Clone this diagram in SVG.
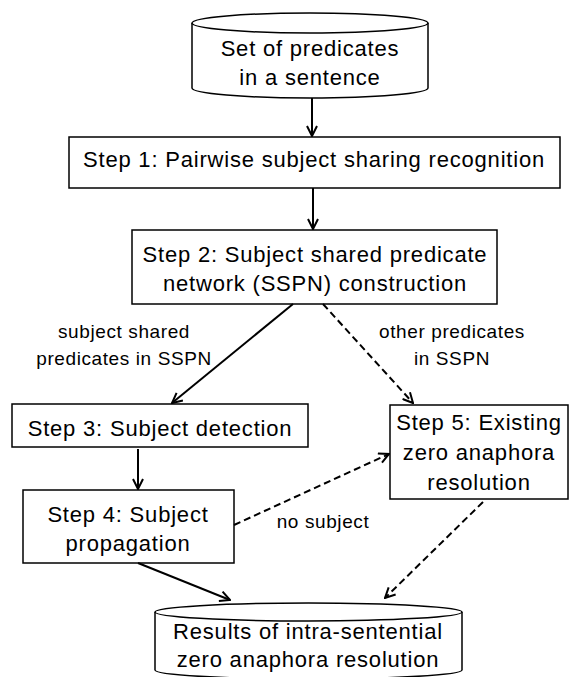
<svg xmlns="http://www.w3.org/2000/svg" width="570" height="677" viewBox="0 0 570 677">
<style>
.box{fill:#fff;stroke:#000;stroke-width:1.5}
.t{font-family:"Liberation Sans",Arial,sans-serif;font-size:22px;letter-spacing:0.8px;text-anchor:middle;fill:#000}
.l{font-family:"Liberation Sans",Arial,sans-serif;font-size:19px;letter-spacing:0.6px;text-anchor:middle;fill:#000}
.c{fill:none;stroke:#000;stroke-width:2}
.d{stroke-dasharray:7 4}
</style>
<defs>
<marker id="ah" viewBox="0 0 12 12" refX="11" refY="6" markerWidth="12" markerHeight="12" markerUnits="userSpaceOnUse" orient="auto">
<path d="M1,1 L11,6 L1,11" fill="none" stroke="#000" stroke-width="2"/>
</marker>
</defs>
<g id="input">
<path class="box" d="M192,23 L192,88 A118,10 0 0 0 428,88 L428,23"/>
<ellipse class="box" cx="310" cy="23" rx="118" ry="10"/>
<text class="t" x="310" y="56">Set of predicates</text>
<text class="t" x="310" y="85">in a sentence</text>
</g>
<g id="step1">
<rect class="box" x="69" y="137" width="491" height="51"/>
<text class="t" x="314" y="167">Step 1: Pairwise subject sharing recognition</text>
</g>
<g id="step2">
<rect class="box" x="132" y="230" width="365" height="74"/>
<text class="t" x="315" y="262">Step 2: Subject shared predicate</text>
<text class="t" x="315" y="291">network (SSPN) construction</text>
</g>
<g id="step3">
<rect class="box" x="12" y="404" width="296" height="43"/>
<text class="t" x="160" y="436">Step 3: Subject detection</text>
</g>
<g id="step4">
<rect class="box" x="23" y="490" width="211" height="73"/>
<text class="t" x="128" y="522">Step 4: Subject</text>
<text class="t" x="128" y="551">propagation</text>
</g>
<g id="step5">
<rect class="box" x="390" y="405" width="178" height="94"/>
<text class="t" x="479" y="430">Step 5: Existing</text>
<text class="t" x="479" y="460">zero anaphora</text>
<text class="t" x="479" y="490">resolution</text>
</g>
<g id="output">
<path class="box" d="M155,612 L155,670 A153.5,9 0 0 0 462,670 L462,612"/>
<ellipse class="box" cx="308.5" cy="612" rx="153.5" ry="9"/>
<text class="t" x="308" y="639">Results of intra-sentential</text>
<text class="t" x="308" y="667">zero anaphora resolution</text>
</g>
<g id="connectors">
<line class="c" x1="312" y1="98" x2="312" y2="136" marker-end="url(#ah)"/>
<line class="c" x1="313" y1="188" x2="313" y2="229" marker-end="url(#ah)"/>
<line class="c" x1="293" y1="304" x2="172" y2="403" marker-end="url(#ah)"/>
<line class="c d" x1="323" y1="304" x2="413" y2="403" marker-end="url(#ah)"/>
<line class="c" x1="138" y1="449" x2="138" y2="489" marker-end="url(#ah)"/>
<line class="c d" x1="234" y1="525" x2="389" y2="454" marker-end="url(#ah)"/>
<line class="c" x1="138" y1="563" x2="230" y2="600" marker-end="url(#ah)"/>
<line class="c d" x1="483" y1="502" x2="385" y2="598" marker-end="url(#ah)"/>
</g>
<g id="labels">
<text class="l" x="124" y="338">subject shared</text>
<text class="l" x="124" y="365">predicates in SSPN</text>
<text class="l" x="452" y="338">other predicates</text>
<text class="l" x="452" y="365">in SSPN</text>
<text class="l" x="323" y="528">no subject</text>
</g>
</svg>
